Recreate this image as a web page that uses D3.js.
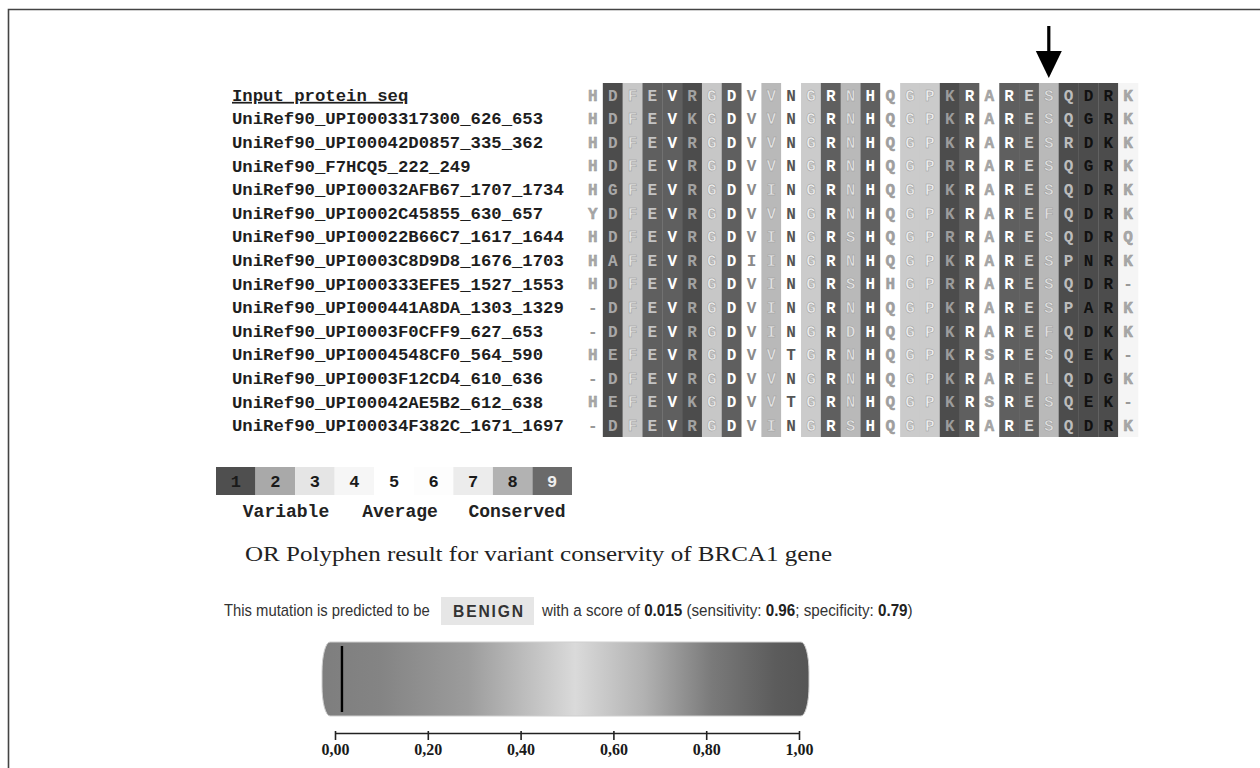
<!DOCTYPE html>
<html>
<head>
<meta charset="utf-8">
<script src="https://cdn.jsdelivr.net/npm/d3@7"></script>
<style>
  body { margin: 0; background: #fff; }
  svg { display: block; }
</style>
</head>
<body>
<div id="chart"></div>
<script>
var svgWidth = 1260;
var svgHeight = 768;

// sequence names, first one is the query
var seqNames = [
  "Input protein seq",
  "UniRef90_UPI0003317300_626_653",
  "UniRef90_UPI00042D0857_335_362",
  "UniRef90_F7HCQ5_222_249",
  "UniRef90_UPI00032AFB67_1707_1734",
  "UniRef90_UPI0002C45855_630_657",
  "UniRef90_UPI00022B66C7_1617_1644",
  "UniRef90_UPI0003C8D9D8_1676_1703",
  "UniRef90_UPI000333EFE5_1527_1553",
  "UniRef90_UPI000441A8DA_1303_1329",
  "UniRef90_UPI0003F0CFF9_627_653",
  "UniRef90_UPI0004548CF0_564_590",
  "UniRef90_UPI0003F12CD4_610_636",
  "UniRef90_UPI00042AE5B2_612_638",
  "UniRef90_UPI00034F382C_1671_1697"
];

// aligned residues, one string per sequence
var seqResidues = [
  "HDFEVRGDVVNGRNHQGPKRARESQDRK",
  "HDFEVKGDVVNGRNHQGPKRARESQGRK",
  "HDFEVRGDVVNGRNHQGPKRARESRDKK",
  "HDFEVRGDVVNGRNHQGPRRARESQGRK",
  "HGFEVRGDVINGRNHQGPKRARESQDRK",
  "YDFEVRGDVVNGRNHQGPKRAREFQDRK",
  "HDFEVRGDVINGRSHQGPRRARESQDRQ",
  "HAFEVRGDIINGRNHQGPKRARESPNRK",
  "HDFEVRGDVINGRSHHGPRRARESQDR-",
  "-DFEVRGDVINGRNHQGPKRARESPARK",
  "-DFEVRGDVINGRDHQGPKRAREFQDKK",
  "HEFEVRGDVVTGRNHQGPKRSRESQEK-",
  "-DFEVRGDVVNGRNHQGPKRARELQDGK",
  "HEFEVKGDVVTGRNHQGPKRSRESQEK-",
  "-DFEVRGDVINGRSHQGPKRARESQDRK"
];

// conservation grade of each alignment column
var colGrade = [5, 1, 2, 9, 9, 1, 2, 9, 5, 8, 5, 7, 9, 8, 9, 5, 7, 7, 1, 9, 5, 9, 9, 8, 1, 1, 1, 4];

// marked position (arrow)
var markedCol = 23;

// legend grades and words
var legendGrades = [1, 2, 3, 4, 5, 6, 7, 8, 9];
var legendWords = ["Variable", "Average", "Conserved"];

// polyphen result
var polyScore = 0.015;
var polyTicks = [0, 0.2, 0.4, 0.6, 0.8, 1.0];
var polyVerdict = "BENIGN";
var polySensitivity = "0.96";
var polySpecificity = "0.79";

var captionText = "OR Polyphen result for variant conservity of BRCA1 gene";

// ---- styles ----
var colShade = {1: "#4c4c4c", 2: "#c7c7c7", 4: "#f5f5f5", 5: "#ffffff", 7: "#cbcbcb", 8: "#b9b9b9", 9: "#5f5f5f"};
var legendShade = ["#4f4f4f", "#a9a9a9", "#e5e5e5", "#f6f6f6", "#ffffff", "#fdfdfd", "#ececec", "#b2b2b2", "#6a6a6a"];
var letterInk = ["#a8a8a8", "#a8a8a8", "#e6e6e6", "#c4c4c4", "#ffffff", "#a2a2a2", "#ececec", "#ffffff",
  "#8a8a8a", "#e4e4e4", "#555555", "#efefef", "#ffffff", "#e4e4e4", "#ffffff", "#a0a0a0", "#efefef",
  "#efefef", "#9c9c9c", "#ffffff", "#a8a8a8", "#ffffff", "#d2d2d2", "#e0e0e0", "#bcbcbc", "#111111",
  "#111111", "#a8a8a8"];
// columns whose letters look hollow / outlined
var hollowCol = [0, 2, 6, 9, 11, 13, 15, 16, 17, 20, 23, 27];

var svg = d3.select("#chart")
  .append("svg")
  .attr("width", svgWidth)
  .attr("height", svgHeight);

// frame (top and left edges visible)
svg.append("path")
  .attr("d", "M8.5,768 V9.5 H1260")
  .attr("fill", "none")
  .attr("stroke", "#444")
  .attr("stroke-width", 1.6);

// ---- alignment ----
var nCols = seqResidues[0].length;

var xCol = d3.scaleBand()
  .domain(d3.range(nCols))
  .range([583, 1138]);

var yRow = d3.scaleBand()
  .domain(d3.range(seqNames.length))
  .range([83, 437]);

var alignGroup = svg.append("g");

alignGroup.selectAll("rect.col")
  .data(colGrade)
  .enter()
  .append("rect")
  .attr("class", "col")
  .attr("x", (d, i) => xCol(i))
  .attr("y", yRow.range()[0])
  .attr("width", xCol.bandwidth() + 0.3)
  .attr("height", yRow.range()[1] - yRow.range()[0])
  .attr("fill", d => colShade[d]);

// residues, one cell per sequence and column
var cells = [];
seqResidues.forEach(function(s, r) {
  s.split("").forEach(function(ch, c) {
    cells.push({row: r, col: c, aa: ch});
  });
});

alignGroup.selectAll("text.aa")
  .data(cells)
  .enter()
  .append("text")
  .attr("class", "aa")
  .attr("x", d => xCol(d.col) + xCol.bandwidth() / 2)
  .attr("y", d => yRow(d.row) + yRow.bandwidth() / 2)
  .attr("dy", "0.36em")
  .attr("text-anchor", "middle")
  .attr("font-family", "'Liberation Mono', 'DejaVu Sans Mono', monospace")
  .attr("font-size", 16)
  .attr("font-weight", "bold")
  .attr("fill", d => d.aa === "-" ? "#999" : letterInk[d.col])
  .attr("stroke", d => hollowCol.indexOf(d.col) >= 0 && d.aa !== "-" ? "#9a9a9a" : null)
  .attr("stroke-width", 0.5)
  .text(d => d.aa);

// sequence names
svg.append("g")
  .selectAll("text")
  .data(seqNames)
  .enter()
  .append("text")
  .attr("x", 232)
  .attr("y", (d, i) => yRow(i) + yRow.bandwidth() / 2)
  .attr("dy", "0.35em")
  .attr("font-family", "'Liberation Mono', 'Courier New', monospace")
  .attr("font-weight", "bold")
  .attr("font-size", 17.3)
  .attr("fill", "#1e1e1e")
  .attr("text-decoration", (d, i) => i === 0 ? "underline" : null)
  .text(d => d);

// arrow over the marked column
var ax = xCol(markedCol) + xCol.bandwidth() / 2;
svg.append("rect")
  .attr("x", ax - 1.6)
  .attr("y", 26)
  .attr("width", 3.2)
  .attr("height", 30)
  .attr("fill", "#000");
svg.append("path")
  .attr("d", `M${ax - 13},51 L${ax + 13},51 L${ax},78 Z`)
  .attr("fill", "#000");

// ---- legend ----
var xLeg = d3.scaleBand()
  .domain(legendGrades)
  .range([216, 572]);

var legGroup = svg.append("g");

legGroup.selectAll("rect")
  .data(legendGrades)
  .enter()
  .append("rect")
  .attr("x", d => xLeg(d))
  .attr("y", 467)
  .attr("width", xLeg.bandwidth())
  .attr("height", 28)
  .attr("fill", (d, i) => legendShade[i]);

legGroup.selectAll("text.num")
  .data(legendGrades)
  .enter()
  .append("text")
  .attr("class", "num")
  .attr("x", d => xLeg(d) + xLeg.bandwidth() / 2)
  .attr("y", 481)
  .attr("dy", "0.36em")
  .attr("text-anchor", "middle")
  .attr("font-family", "'Liberation Mono', monospace")
  .attr("font-weight", "bold")
  .attr("font-size", 17)
  .attr("fill", d => d === 9 ? "#eeeeee" : "#1a1a1a")
  .text(d => d);

var wordCenters = [286, 400, 517];
legGroup.selectAll("text.word")
  .data(legendWords)
  .enter()
  .append("text")
  .attr("class", "word")
  .attr("x", (d, i) => wordCenters[i])
  .attr("y", 517)
  .attr("text-anchor", "middle")
  .attr("font-family", "'Liberation Mono', monospace")
  .attr("font-weight", "bold")
  .attr("font-size", 18)
  .attr("fill", "#222")
  .text(d => d);

// caption
svg.append("text")
  .attr("x", 245)
  .attr("y", 561)
  .attr("font-family", "'Liberation Serif', serif")
  .attr("font-size", 21)
  .attr("fill", "#222")
  .attr("textLength", 587)
  .attr("lengthAdjust", "spacingAndGlyphs")
  .text(captionText);

// ---- polyphen sentence ----
var sentFont = "'Liberation Sans', Arial, sans-serif";

// squeeze a text group to a given width (the original uses a narrow face)
function squeeze(g, txt, x, y, w) {
  var tw = txt.node().getComputedTextLength();
  g.attr("transform", `translate(${x}, ${y}) scale(${w / tw}, 1)`);
}

var leftGroup = svg.append("g");
var leftText = leftGroup.append("text")
  .attr("font-family", sentFont)
  .attr("font-size", 17)
  .attr("fill", "#333")
  .text("This mutation is predicted to be");
squeeze(leftGroup, leftText, 224, 616, 206);

svg.append("rect")
  .attr("x", 441)
  .attr("y", 597)
  .attr("width", 93)
  .attr("height", 28)
  .attr("fill", "#e6e6e6");

var verdictGroup = svg.append("g");
var verdictText = verdictGroup.append("text")
  .attr("font-family", sentFont)
  .attr("font-weight", "bold")
  .attr("font-size", 17)
  .attr("letter-spacing", 2)
  .attr("fill", "#333")
  .text(polyVerdict);
squeeze(verdictGroup, verdictText, 453, 617, 72);

var rightGroup = svg.append("g");
var right = rightGroup.append("text")
  .attr("font-family", sentFont)
  .attr("font-size", 17)
  .attr("fill", "#333");
right.append("tspan").text("with a score of ");
right.append("tspan").attr("font-weight", "bold").attr("fill", "#222").text(d3.format(".3f")(polyScore));
right.append("tspan").text(" (sensitivity: ");
right.append("tspan").attr("font-weight", "bold").attr("fill", "#222").text(polySensitivity);
right.append("tspan").text("; specificity: ");
right.append("tspan").attr("font-weight", "bold").attr("fill", "#222").text(polySpecificity);
right.append("tspan").text(")");
squeeze(rightGroup, right, 542, 616, 371);

// ---- polyphen score bar ----
var xScore = d3.scaleLinear()
  .domain([0, 1])
  .range([335, 799]);

var defs = svg.append("defs");
var grad = defs.append("linearGradient")
  .attr("id", "scoreGrad")
  .attr("x1", "0%").attr("x2", "100%")
  .attr("y1", "0%").attr("y2", "0%");
[[0, "#7e7e7e"], [0.12, "#848484"], [0.3, "#9c9c9c"], [0.52, "#dadada"], [0.66, "#b2b2b2"],
  [0.8, "#7a7a7a"], [0.93, "#5c5c5c"], [1, "#555555"]].forEach(function(s) {
  grad.append("stop").attr("offset", s[0]).attr("stop-color", s[1]);
});

var barL = xScore(0) - 13, barR = xScore(1) + 10, barT = 642, barB = 716;
svg.append("rect")
  .attr("x", barL)
  .attr("y", barT)
  .attr("width", barR - barL)
  .attr("height", barB - barT)
  .attr("rx", 8)
  .attr("ry", 30)
  .attr("fill", "url(#scoreGrad)")
  .attr("stroke", "#cfcfcf")
  .attr("stroke-width", 1);

// score marker
svg.append("line")
  .attr("x1", xScore(polyScore))
  .attr("x2", xScore(polyScore))
  .attr("y1", barT + 4)
  .attr("y2", barB - 4)
  .attr("stroke", "#000")
  .attr("stroke-width", 2.4);

var scoreAxis = d3.axisBottom(xScore)
  .tickValues(polyTicks)
  .tickSize(7)
  .tickSizeOuter(0)
  .tickPadding(4)
  .tickFormat(d => d3.format(".2f")(d).replace(".", ","));

var axisG = svg.append("g")
  .attr("transform", "translate(0, 733)")
  .call(scoreAxis);

axisG.select(".domain").attr("stroke", "#222").attr("stroke-width", 1.6);
axisG.selectAll(".tick line").attr("stroke", "#222").attr("stroke-width", 1.6).attr("y1", -2);
axisG.selectAll(".tick text")
  .attr("font-family", "'Liberation Serif', serif")
  .attr("font-weight", "bold")
  .attr("font-size", 16)
  .attr("fill", "#1a1a1a");
</script>
</body>
</html>
